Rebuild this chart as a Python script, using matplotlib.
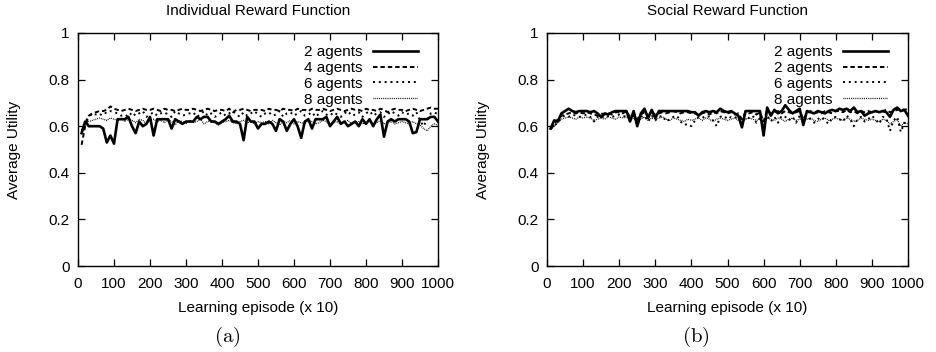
import matplotlib
matplotlib.use("Agg")
import matplotlib.pyplot as plt

plt.rcParams['font.family'] = ['Liberation Sans', 'DejaVu Sans']
plt.rcParams['mathtext.fontset'] = 'cm'

episodes = list(range(10, 1001, 10))

ind_2 = [0.57, 0.62, 0.60, 0.60, 0.60, 0.60, 0.59, 0.53, 0.56, 0.525,
         0.63, 0.63, 0.63, 0.64, 0.60, 0.57, 0.62, 0.60, 0.61, 0.64,
         0.56, 0.63, 0.63, 0.63, 0.63, 0.59, 0.63, 0.62, 0.61, 0.62,
         0.62, 0.62, 0.64, 0.63, 0.64, 0.64, 0.62, 0.62, 0.61, 0.62,
         0.63, 0.645, 0.62, 0.62, 0.61, 0.54, 0.64, 0.62, 0.62, 0.59,
         0.61, 0.61, 0.62, 0.61, 0.58, 0.63, 0.62, 0.58, 0.61, 0.63,
         0.60, 0.55, 0.62, 0.63, 0.59, 0.63, 0.63, 0.63, 0.64, 0.60,
         0.62, 0.64, 0.61, 0.62, 0.60, 0.61, 0.62, 0.60, 0.63, 0.61,
         0.63, 0.60, 0.63, 0.65, 0.555, 0.62, 0.63, 0.62, 0.63, 0.63,
         0.63, 0.62, 0.57, 0.575, 0.63, 0.63, 0.63, 0.64, 0.64, 0.62]
ind_4 = [0.52, 0.60, 0.645, 0.655, 0.66, 0.665, 0.665, 0.67, 0.685, 0.675,
         0.67, 0.665, 0.67, 0.675, 0.67, 0.665, 0.67, 0.675, 0.67, 0.67,
         0.675, 0.67, 0.665, 0.675, 0.67, 0.67, 0.665, 0.67, 0.675, 0.67,
         0.67, 0.675, 0.67, 0.665, 0.67, 0.675, 0.67, 0.665, 0.67, 0.67,
         0.665, 0.675, 0.66, 0.67, 0.67, 0.675, 0.67, 0.665, 0.67, 0.67,
         0.67, 0.665, 0.675, 0.67, 0.67, 0.665, 0.675, 0.67, 0.67, 0.665,
         0.675, 0.67, 0.67, 0.665, 0.675, 0.67, 0.67, 0.675, 0.67, 0.665,
         0.67, 0.675, 0.67, 0.665, 0.67, 0.675, 0.67, 0.67, 0.665, 0.675,
         0.67, 0.67, 0.665, 0.675, 0.67, 0.66, 0.67, 0.675, 0.67, 0.67,
         0.665, 0.67, 0.675, 0.67, 0.665, 0.67, 0.675, 0.68, 0.675, 0.675]
ind_6 = [0.58, 0.62, 0.64, 0.655, 0.65, 0.645, 0.66, 0.655, 0.665, 0.66,
         0.655, 0.645, 0.65, 0.64, 0.66, 0.645, 0.655, 0.665, 0.64, 0.65,
         0.66, 0.645, 0.655, 0.66, 0.65, 0.64, 0.665, 0.655, 0.645, 0.65,
         0.655, 0.66, 0.64, 0.65, 0.665, 0.645, 0.655, 0.64, 0.65, 0.66,
         0.645, 0.655, 0.665, 0.65, 0.64, 0.66, 0.645, 0.655, 0.665, 0.65,
         0.64, 0.655, 0.66, 0.645, 0.65, 0.665, 0.64, 0.655, 0.66, 0.645,
         0.655, 0.665, 0.645, 0.65, 0.66, 0.64, 0.655, 0.665, 0.65, 0.645,
         0.66, 0.65, 0.64, 0.655, 0.665, 0.645, 0.65, 0.66, 0.64, 0.655,
         0.665, 0.645, 0.655, 0.66, 0.64, 0.65, 0.665, 0.655, 0.645, 0.66,
         0.65, 0.655, 0.645, 0.66, 0.625, 0.60, 0.63, 0.655, 0.66, 0.65]
ind_8 = [0.58, 0.60, 0.62, 0.625, 0.63, 0.635, 0.63, 0.625, 0.635, 0.63,
         0.625, 0.635, 0.62, 0.63, 0.625, 0.615, 0.63, 0.625, 0.61, 0.625,
         0.63, 0.62, 0.625, 0.615, 0.63, 0.62, 0.605, 0.625, 0.62, 0.61,
         0.625, 0.615, 0.62, 0.63, 0.61, 0.62, 0.625, 0.615, 0.605, 0.615,
         0.62, 0.625, 0.615, 0.61, 0.62, 0.625, 0.615, 0.62, 0.61, 0.62,
         0.615, 0.62, 0.61, 0.625, 0.615, 0.605, 0.62, 0.615, 0.625, 0.61,
         0.62, 0.615, 0.61, 0.625, 0.62, 0.61, 0.615, 0.625, 0.62, 0.605,
         0.615, 0.62, 0.61, 0.62, 0.625, 0.61, 0.615, 0.62, 0.61, 0.615,
         0.62, 0.61, 0.615, 0.625, 0.61, 0.615, 0.62, 0.61, 0.615, 0.62,
         0.615, 0.61, 0.62, 0.61, 0.605, 0.59, 0.58, 0.60, 0.61, 0.605]

soc_2a = [0.59, 0.625, 0.62, 0.655, 0.665, 0.675, 0.665, 0.66, 0.665, 0.665,
          0.665, 0.66, 0.665, 0.655, 0.64, 0.655, 0.65, 0.66, 0.665, 0.665,
          0.665, 0.665, 0.62, 0.665, 0.60, 0.655, 0.675, 0.635, 0.67, 0.635,
          0.665, 0.665, 0.665, 0.665, 0.665, 0.665, 0.665, 0.665, 0.665, 0.66,
          0.66, 0.645, 0.66, 0.665, 0.66, 0.665, 0.66, 0.675, 0.665, 0.66,
          0.665, 0.655, 0.645, 0.595, 0.665, 0.665, 0.665, 0.665, 0.665, 0.56,
          0.68, 0.645, 0.67, 0.655, 0.665, 0.69, 0.67, 0.655, 0.665, 0.675,
          0.605, 0.665, 0.66, 0.655, 0.665, 0.66, 0.655, 0.665, 0.67, 0.665,
          0.675, 0.67, 0.675, 0.665, 0.68, 0.66, 0.665, 0.645, 0.655, 0.66,
          0.665, 0.66, 0.665, 0.66, 0.64, 0.67, 0.68, 0.665, 0.67, 0.645]
soc_2b = [0.59, 0.61, 0.63, 0.645, 0.65, 0.655, 0.66, 0.655, 0.66, 0.655,
          0.66, 0.655, 0.65, 0.645, 0.655, 0.65, 0.655, 0.65, 0.66, 0.66,
          0.655, 0.665, 0.64, 0.655, 0.63, 0.65, 0.66, 0.645, 0.66, 0.65,
          0.655, 0.66, 0.655, 0.66, 0.665, 0.66, 0.655, 0.66, 0.66, 0.655,
          0.655, 0.65, 0.655, 0.66, 0.65, 0.66, 0.655, 0.665, 0.66, 0.655,
          0.66, 0.65, 0.655, 0.63, 0.66, 0.655, 0.66, 0.65, 0.66, 0.62,
          0.67, 0.655, 0.66, 0.665, 0.655, 0.665, 0.66, 0.655, 0.66, 0.665,
          0.63, 0.655, 0.665, 0.655, 0.66, 0.655, 0.665, 0.66, 0.655, 0.665,
          0.665, 0.66, 0.67, 0.66, 0.665, 0.655, 0.665, 0.66, 0.665, 0.66,
          0.665, 0.66, 0.665, 0.67, 0.66, 0.665, 0.67, 0.675, 0.67, 0.675]
soc_6 = [0.59, 0.60, 0.62, 0.64, 0.645, 0.64, 0.65, 0.645, 0.64, 0.645,
         0.65, 0.64, 0.62, 0.64, 0.645, 0.635, 0.645, 0.64, 0.645, 0.65,
         0.645, 0.64, 0.63, 0.645, 0.61, 0.64, 0.645, 0.62, 0.645, 0.625,
         0.64, 0.645, 0.62, 0.63, 0.64, 0.645, 0.62, 0.605, 0.61, 0.60,
         0.625, 0.64, 0.635, 0.645, 0.64, 0.625, 0.60, 0.64, 0.645, 0.63,
         0.64, 0.635, 0.645, 0.61, 0.64, 0.635, 0.645, 0.615, 0.635, 0.60,
         0.645, 0.62, 0.64, 0.615, 0.645, 0.64, 0.625, 0.64, 0.615, 0.645,
         0.62, 0.64, 0.63, 0.615, 0.63, 0.64, 0.625, 0.61, 0.635, 0.64,
         0.63, 0.62, 0.645, 0.63, 0.60, 0.63, 0.64, 0.62, 0.63, 0.645,
         0.63, 0.61, 0.64, 0.635, 0.58, 0.625, 0.64, 0.575, 0.615, 0.60]
soc_8 = [0.585, 0.60, 0.615, 0.63, 0.635, 0.64, 0.635, 0.63, 0.64, 0.635,
         0.64, 0.635, 0.625, 0.63, 0.635, 0.63, 0.64, 0.635, 0.63, 0.64,
         0.635, 0.64, 0.625, 0.635, 0.62, 0.63, 0.64, 0.625, 0.635, 0.63,
         0.635, 0.64, 0.63, 0.625, 0.635, 0.63, 0.625, 0.62, 0.63, 0.625,
         0.63, 0.635, 0.625, 0.635, 0.63, 0.62, 0.63, 0.635, 0.63, 0.625,
         0.63, 0.635, 0.625, 0.62, 0.63, 0.635, 0.63, 0.625, 0.63, 0.62,
         0.635, 0.63, 0.625, 0.635, 0.63, 0.62, 0.63, 0.635, 0.625, 0.63,
         0.625, 0.63, 0.635, 0.625, 0.62, 0.63, 0.635, 0.625, 0.63, 0.635,
         0.63, 0.625, 0.635, 0.63, 0.62, 0.625, 0.635, 0.63, 0.625, 0.63,
         0.625, 0.62, 0.63, 0.625, 0.61, 0.62, 0.63, 0.60, 0.615, 0.61]

titles = ["Individual Reward Function", "Social Reward Function"]
captions = ["(a)", "(b)"]
labels_left = ["2 agents", "4 agents", "6 agents", "8 agents"]
labels_right = ["2 agents", "2 agents", "6 agents", "8 agents"]
xticks = list(range(0, 1001, 100))
yticks = [0, 0.2, 0.4, 0.6, 0.8, 1.0]
ytick_labels = ["0", "0.2", "0.4", "0.6", "0.8", "1"]

styles = [
    dict(linestyle='-', linewidth=1.9),
    dict(linestyle=(0, (2.3, 1.5)), linewidth=1.4),
    dict(linestyle=(0, (1.0, 2.0)), linewidth=1.4),
    dict(linestyle=(0, (0.7, 0.8)), linewidth=0.9),
]

fig = plt.figure(figsize=(9.36, 3.52), dpi=100)
axL = fig.add_axes([78/936, 86/352, 360/936, 233/352])
axR = fig.add_axes([547/936, 86/352, 361/936, 233/352])

panels = [(axL, [ind_2, ind_4, ind_6, ind_8], labels_left, 227),
          (axR, [soc_2a, soc_2b, soc_6, soc_8], labels_right, 696)]

for i, (ax, series, labels, cap_x) in enumerate(panels):
    for s, lab, st in zip(series, labels, styles):
        ax.plot(episodes, s, color='black', label=lab, **st)
    ax.set_xlim(0, 1000)
    ax.set_ylim(0, 1)
    ax.set_xticks(xticks)
    ax.set_yticks(yticks)
    ax.set_yticklabels(ytick_labels)
    ax.tick_params(direction='in', length=5, width=0.9, top=True, right=True,
                   labelsize=11)
    ax.tick_params(axis='x', pad=8)
    ax.tick_params(axis='y', pad=6)
    for sp in ax.spines.values():
        sp.set_linewidth(1.0)
    ax.set_xlabel("Learning episode (x 10)", fontsize=11, labelpad=7)
    ax.set_ylabel("Average Utility", fontsize=11, labelpad=20)
    ax.set_title(titles[i], fontsize=11, pad=13)
    ax.legend(loc='upper right', bbox_to_anchor=(0.944, 0.948), frameon=False,
              fontsize=11, markerfirst=False, handlelength=2.95,
              labelspacing=0.12, borderaxespad=0.0, borderpad=0.0,
              handletextpad=0.65)
    fig.text(cap_x / 936, 15/352, r"$\mathrm{" + captions[i] + "}$",
             ha='center', va='center', fontsize=15)

fig.savefig("out.png", dpi=100)
